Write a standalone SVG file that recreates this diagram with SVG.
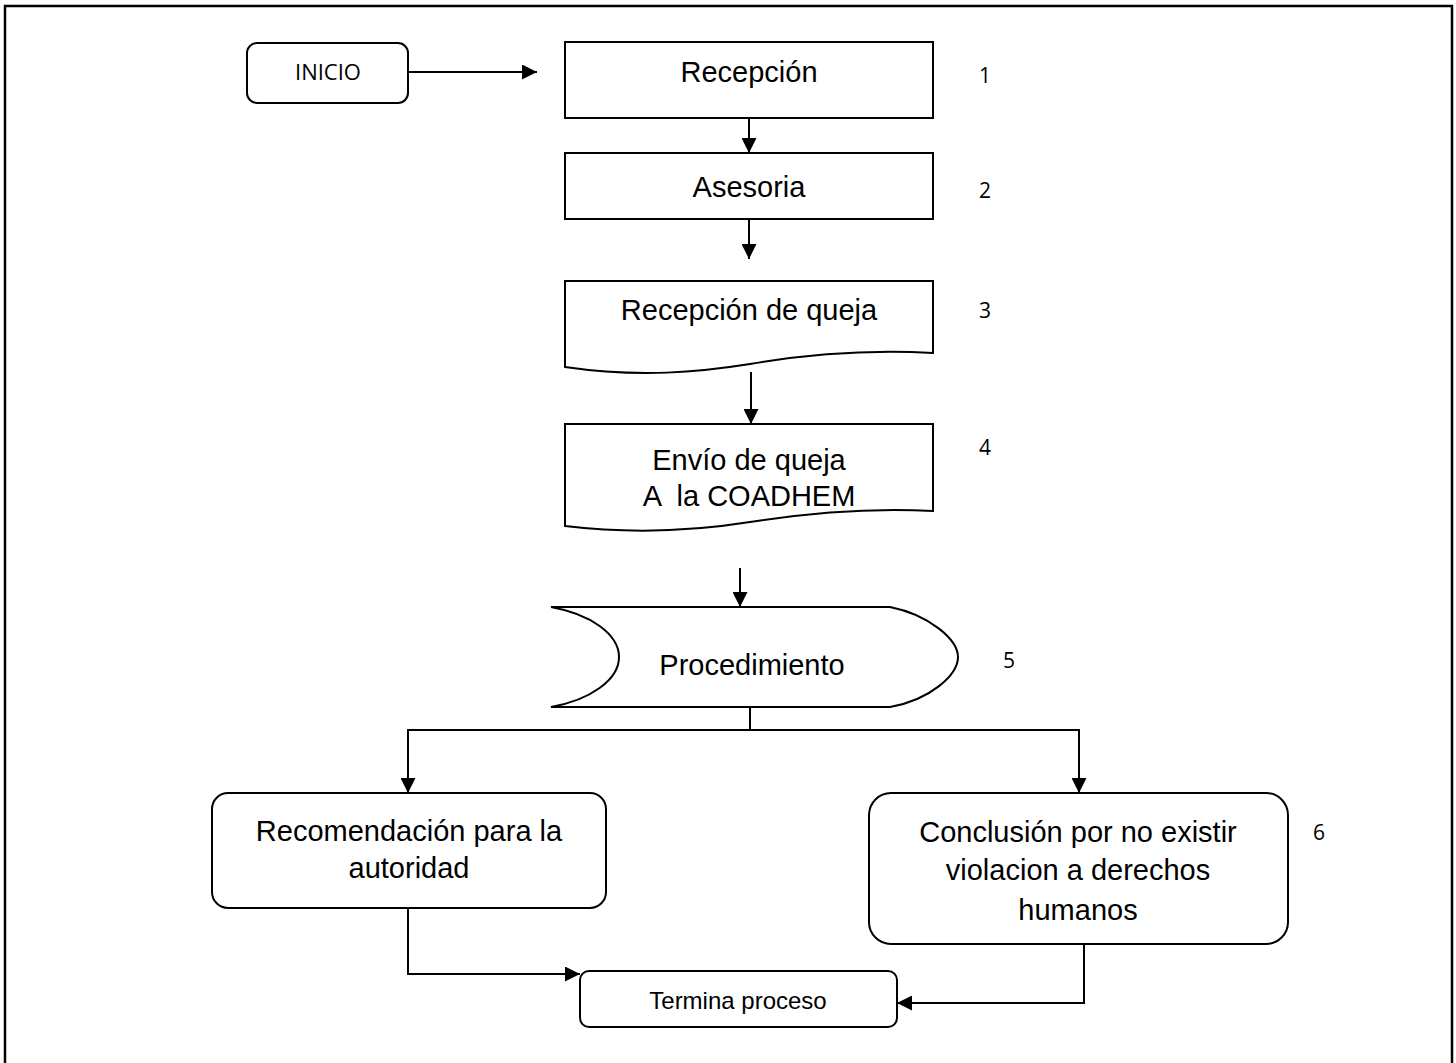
<svg xmlns="http://www.w3.org/2000/svg" width="1456" height="1063" viewBox="0 0 1456 1063">
<style>
.s{fill:#fff;stroke:#000;stroke-width:2}
.t{font-family:"Liberation Sans",Arial,sans-serif;font-size:29px;fill:#000;text-anchor:middle;white-space:pre}
.n{font-family:"Open Sans","DejaVu Sans",sans-serif;font-size:21px;fill:#000}
.c{fill:none;stroke:#000;stroke-width:2}
</style>
<defs>
<marker id="a" viewBox="0 0 10 10" refX="10" refY="5" markerWidth="15" markerHeight="15" markerUnits="userSpaceOnUse" orient="auto" preserveAspectRatio="none"><path d="M0,0 L10,5 L0,10 z" fill="#000"/></marker>
</defs>
<rect width="1456" height="1063" fill="#fff"/>
<path d="M5,1063 V6 H1452 V1063" fill="none" stroke="#000" stroke-width="2.5"/>
<g id="inicio"><rect class="s" x="247" y="43" width="161" height="60" rx="10"/><text class="n" x="328" y="80" text-anchor="middle" style="font-size:22px">INICIO</text></g>
<g id="recepcion"><rect class="s" x="565" y="42" width="368" height="76"/><text class="t" x="749" y="82">Recepción</text></g>
<g id="asesoria"><rect class="s" x="565" y="153" width="368" height="66"/><text class="t" x="749" y="197">Asesoria</text></g>
<g id="recepcion-queja"><path class="s" d="M565,281 H933 V353 C880,350 820,352 750,364 C700,372 640,378 565,367 Z"/><text class="t" x="749" y="320">Recepción de queja</text></g>
<g id="envio"><path class="s" d="M565,424 H933 V511 C880,508 820,511 750,522 C700,530 640,535 565,526 Z"/><text class="t" x="749" y="470">Envío de queja</text><text class="t" x="749" y="506" xml:space="preserve">A  la COADHEM</text></g>
<g id="procedimiento"><path class="s" d="M551,607 H890 C930,615 958,640 958,657 C958,675 930,700 890,707 H551 C590,700 619,680 619,657 C619,634 590,614 551,607 Z"/><text class="t" x="752" y="675">Procedimiento</text></g>
<g id="recomendacion"><rect class="s" x="212" y="793" width="394" height="115" rx="16"/><text class="t" x="409" y="841">Recomendación para la</text><text class="t" x="409" y="878">autoridad</text></g>
<g id="conclusion"><rect class="s" x="869" y="793" width="419" height="151" rx="22"/><text class="t" x="1078" y="842">Conclusión por no existir</text><text class="t" x="1078" y="880">violacion a derechos</text><text class="t" x="1078" y="920">humanos</text></g>
<g id="termina"><rect class="s" x="580" y="971" width="317" height="56" rx="9"/><text class="t" x="738" y="1009" style="font-size:24px">Termina proceso</text></g>
<g id="numeros">
<text class="n" x="979" y="83">1</text>
<text class="n" x="979" y="198">2</text>
<text class="n" x="979" y="318">3</text>
<text class="n" x="979" y="455">4</text>
<text class="n" x="1003" y="668">5</text>
<text class="n" x="1313" y="840">6</text>
</g>
<g id="connectors">
<path class="c" d="M408,72 H537" marker-end="url(#a)"/>
<path class="c" d="M749,118 V153" marker-end="url(#a)"/>
<path class="c" d="M749,219 V259" marker-end="url(#a)"/>
<path class="c" d="M751,372 V424" marker-end="url(#a)"/>
<path class="c" d="M740,568 V607" marker-end="url(#a)"/>
<path class="c" d="M750,707 V730"/>
<path class="c" d="M750,730 H408 V793" marker-end="url(#a)"/>
<path class="c" d="M750,730 H1079 V793" marker-end="url(#a)"/>
<path class="c" d="M408,908 V974 H580" marker-end="url(#a)"/>
<path class="c" d="M1084,944 V1003 H897" marker-end="url(#a)"/>
</g>
</svg>
